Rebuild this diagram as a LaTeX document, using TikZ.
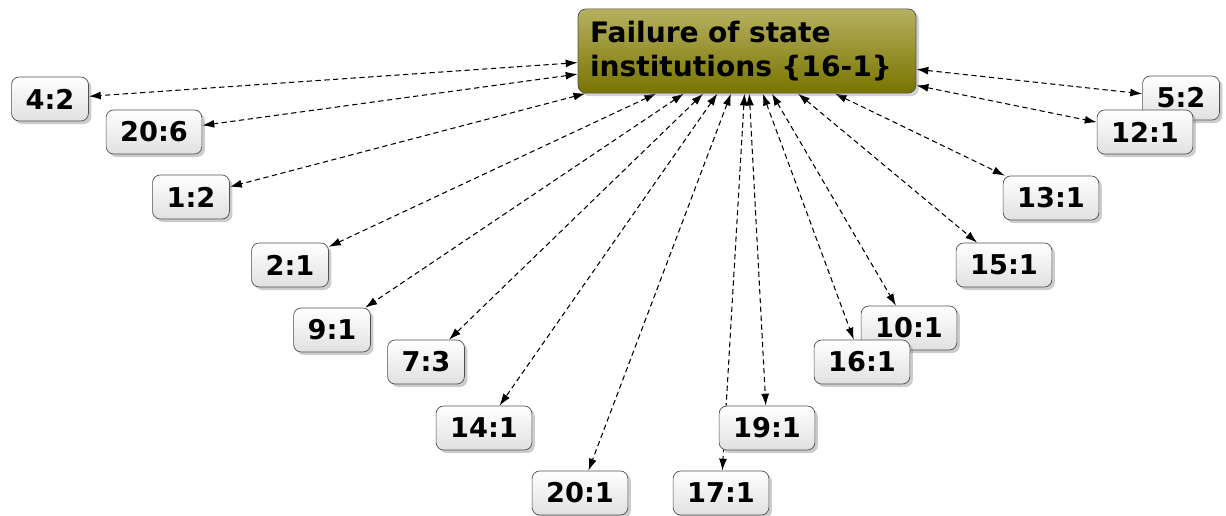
\documentclass[tikz,border=0pt]{standalone}
\usepackage{fontspec}
\setmainfont{DejaVu Sans}
\usetikzlibrary{positioning}
\usetikzlibrary{arrows.meta}
\usetikzlibrary{shadows}
\usetikzlibrary{backgrounds}
\definecolor{olivetop}{RGB}{182,177,96}
\definecolor{olivebot}{RGB}{120,116,0}
\definecolor{boxline}{RGB}{80,80,80}
\tikzset{lnk/.style={densely dashed,line width=0.6pt,{Latex[length=2.4mm,width=1.6mm]}-{Latex[length=2.4mm,width=1.6mm]}}}
\tikzset{topic/.style={draw=boxline,rounded corners=0.16cm,top color=olivetop,bottom color=olivebot,align=left,text width=6.28cm,minimum height=1.56cm,inner sep=0.24cm,font=\fontsize{16}{19.5}\selectfont\bfseries,drop shadow={shadow xshift=0.06cm,shadow yshift=-0.06cm,opacity=0.35}}}
\tikzset{cnt/.style={draw=boxline,rounded corners=0.15cm,top color=white,bottom color=black!12,minimum height=0.88cm,inner xsep=0.28cm,font=\fontsize{15.5}{18}\selectfont\bfseries,drop shadow={shadow xshift=0.06cm,shadow yshift=-0.06cm,opacity=0.4}}}

\begin{document}
\begin{tikzpicture}
\useasboundingbox (0, 0) rectangle (24.52, -10.3);

\node (fail) [topic] at (14.94, -1.02) {Failure of state\\institutions \{16-1\}};

\node (a42) [cnt] at (1.0, -1.98) {4:2};
\node (a206) [cnt] at (3.08, -2.64) {20:6};
\node (a12) [cnt] at (3.82, -3.94) {1:2};
\node (a21) [cnt] at (5.8, -5.3) {2:1};
\node (a91) [cnt] at (6.64, -6.6) {9:1};
\node (a73) [cnt] at (8.52, -7.24) {7:3};
\node (a141) [cnt] at (9.68, -8.56) {14:1};
\node (a201) [cnt] at (11.6, -9.86) {20:1};

\node (a171) [cnt] at (14.42, -9.86) {17:1};
\node (a191) [cnt] at (15.34, -8.56) {19:1};
\node (a101) [cnt] at (18.18, -6.56) {10:1};
\node (a161) [cnt] at (17.24, -7.24) {16:1};
\node (a151) [cnt] at (20.08, -5.3) {15:1};
\node (a131) [cnt] at (21.02, -3.96) {13:1};
\node (a52) [cnt] at (23.62, -1.96) {5:2};
\node (a121) [cnt] at (22.9, -2.64) {12:1};

\begin{scope}[on background layer]
\foreach \n in {a42,a206,a12,a21,a91,a73,a141,a201,a171,a191,a101,a161,a151,a131,a52,a121}
  \draw[lnk] (fail) -- (\n);
\end{scope}
\end{tikzpicture}
\end{document}
